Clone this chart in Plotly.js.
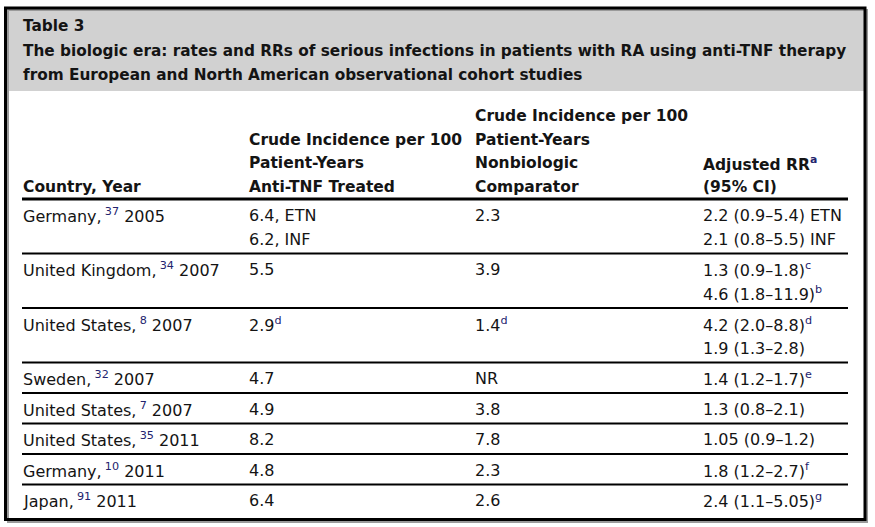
<!DOCTYPE html>
<html>
<head>
<meta charset="utf-8">
<script src="https://cdn.plot.ly/plotly-3.0.1.min.js"></script>
<style>html,body{margin:0;padding:0;background:#fff;}#chart{width:875px;height:527px;}</style>
</head>
<body>
<div id="chart"></div>
<script>
// ---- data ----
const tableLabel = "Table 3";
const titleLines = [
  "The biologic era: rates and RRs of serious infections in patients with RA using anti-TNF therapy",
  "from European and North American observational cohort studies"
];
const colHeaders = [
  ["Country, Year"],
  ["Crude Incidence per 100", "Patient-Years", "Anti-TNF Treated"],
  ["Crude Incidence per 100", "Patient-Years", "Nonbiologic", "Comparator"],
  ["Adjusted RR", "(95% CI)"]
];
const colHeaderNotes = [[""], ["", "", ""], ["", "", "", ""], ["a", ""]];
const countries = ["Germany", "United Kingdom", "United States", "Sweden", "United States", "United States", "Germany", "Japan"];
const refs = ["37", "34", "8", "32", "7", "35", "10", "91"];
const years = ["2005", "2007", "2007", "2007", "2007", "2011", "2011", "2011"];
const antiTNF = [["6.4, ETN", "6.2, INF"], ["5.5"], ["2.9"], ["4.7"], ["4.9"], ["8.2"], ["4.8"], ["6.4"]];
const antiTNFNotes = [["", ""], [""], ["d"], [""], [""], [""], [""], [""]];
const comparator = [["2.3"], ["3.9"], ["1.4"], ["NR"], ["3.8"], ["7.8"], ["2.3"], ["2.6"]];
const comparatorNotes = [[""], [""], ["d"], [""], [""], [""], [""], [""]];
const adjRR = [
  ["2.2 (0.9–5.4) ETN", "2.1 (0.8–5.5) INF"],
  ["1.3 (0.9–1.8)", "4.6 (1.8–11.9)"],
  ["4.2 (2.0–8.8)", "1.9 (1.3–2.8)"],
  ["1.4 (1.2–1.7)"],
  ["1.3 (0.8–2.1)"],
  ["1.05 (0.9–1.2)"],
  ["1.8 (1.2–2.7)"],
  ["2.4 (1.1–5.05)"]
];
const adjRRNotes = [["", ""], ["c", "b"], ["d", ""], ["e"], [""], [""], ["f"], ["g"]];

// ---- layout constants ----
const W = 875, H = 527;
const FONT = "'DejaVu Sans', Verdana, sans-serif";
const TXT = "#141414";
const SUP = "#23236e";
const colX = [22, 248, 474, 702];
const lineL = 22, lineR = 848;
const headerBottom = 199;
const lineStep = 24;
const firstOffset = 16;
const rowPad = 6.5;

function sup(s) { return s ? '<sup><span style="color:' + SUP + '">' + s + '</span></sup>' : ''; }

const annotations = [];
const shapes = [];

function addText(x, y, text, size, bold) {
  annotations.push({
    x: x, y: y, xref: 'x', yref: 'y', xanchor: 'left', yanchor: 'middle',
    text: bold ? '<b>' + text + '</b>' : text, showarrow: false,
    font: { family: FONT, size: size, color: TXT }, borderpad: 0
  });
}

// outer frame & header band
shapes.push({ type: 'rect', xref: 'x', yref: 'y', x0: 7, x1: 864, y0: 9, y1: 91, fillcolor: '#d1d1d1', line: { width: 0 }, layer: 'below' });
shapes.push({ type: 'rect', xref: 'x', yref: 'y', x0: 8, x1: 867, y0: 10, y1: 522, fillcolor: 'rgba(0,0,0,0)', line: { color: '#9a9a9a', width: 2 } });
shapes.push({ type: 'rect', xref: 'x', yref: 'y', x0: 5.5, x1: 865, y0: 8, y1: 519.5, fillcolor: 'rgba(0,0,0,0)', line: { color: '#000', width: 3 } });

// title
addText(22, 26, tableLabel, 15.3, true);
titleLines.forEach((t, i) => addText(22, 51 + i * 23.5, t, 15.3, true));

// column headers, bottom aligned
colHeaders.forEach((lines, c) => {
  const n = lines.length;
  lines.forEach((t, i) => {
    const y = 187 - (n - 1 - i) * 23.7;
    addText(colX[c], y, t + sup(colHeaderNotes[c][i]), 15.5, true);
  });
});
shapes.push({ type: 'line', xref: 'x', yref: 'y', x0: lineL, x1: lineR, y0: headerBottom, y1: headerBottom, line: { color: '#000', width: 3 } });

// body rows
let rowTop = headerBottom;
countries.forEach((cn, r) => {
  const nLines = Math.max(antiTNF[r].length, comparator[r].length, adjRR[r].length);
  const y0 = rowTop + firstOffset;
  addText(colX[0], y0, cn + ',\u2009' + sup(refs[r]) + ' ' + years[r], 16, false);
  antiTNF[r].forEach((t, i) => addText(colX[1], y0 + i * lineStep, t + sup(antiTNFNotes[r][i]), 16, false));
  comparator[r].forEach((t, i) => addText(colX[2], y0 + i * lineStep, t + sup(comparatorNotes[r][i]), 16, false));
  adjRR[r].forEach((t, i) => addText(colX[3], y0 + i * lineStep, t + sup(adjRRNotes[r][i]), 16, false));
  rowTop = rowTop + nLines * lineStep + rowPad;
  if (r < countries.length - 1) {
    shapes.push({ type: 'line', xref: 'x', yref: 'y', x0: lineL, x1: lineR, y0: rowTop, y1: rowTop, line: { color: '#000', width: 2.2 } });
  }
});

const layout = {
  width: W, height: H,
  margin: { l: 0, r: 0, t: 0, b: 0, pad: 0 },
  paper_bgcolor: '#fff', plot_bgcolor: '#fff',
  xaxis: { range: [0, W], visible: false, fixedrange: true },
  yaxis: { range: [H, 0], visible: false, fixedrange: true },
  showlegend: false,
  shapes: shapes,
  annotations: annotations
};
Plotly.newPlot('chart', [], layout, { staticPlot: true, displayModeBar: false });
</script>
</body>
</html>
